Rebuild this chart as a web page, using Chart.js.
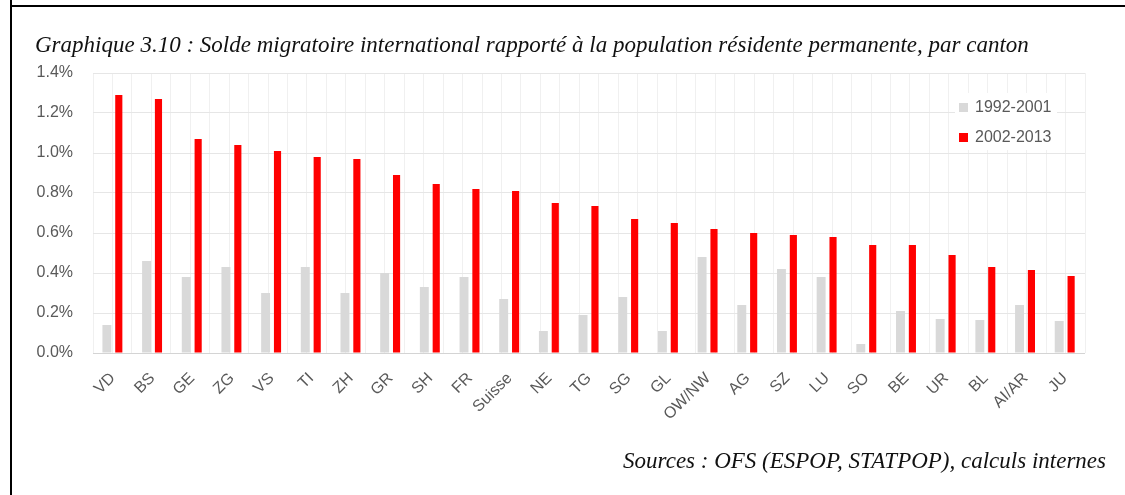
<!DOCTYPE html>
<html>
<head>
<meta charset="utf-8">
<script src="https://cdn.jsdelivr.net/npm/chart.js@4/dist/chart.umd.min.js"></script>
<style>
  body { margin: 0; background: #fff; }
  #wrap { position: relative; width: 1125px; height: 495px; }
  .frame { position: absolute; background: #000; }
  canvas { position: absolute; left: 0; top: 0; }
</style>
</head>
<body>
<div id="wrap">
  <div class="frame" style="left:10px; top:0; width:2px; height:495px;"></div>
  <div class="frame" style="left:10px; top:5px; width:1115px; height:2px;"></div>
  <canvas id="chart" width="1125" height="495"></canvas>
</div>
<script>
const cantons = ["VD", "BS", "GE", "ZG", "VS", "TI", "ZH", "GR", "SH", "FR", "Suisse", "NE", "TG",
  "SG", "GL", "OW/NW", "AG", "SZ", "LU", "SO", "BE", "UR", "BL", "AI/AR", "JU"];
const seriesLabels = ["1992-2001", "2002-2013"];
const solde1992 = [0.14, 0.46, 0.38, 0.43, 0.30, 0.43, 0.30, 0.40, 0.33, 0.38, 0.27, 0.11, 0.19,
  0.28, 0.11, 0.48, 0.24, 0.42, 0.38, 0.045, 0.21, 0.17, 0.165, 0.24, 0.16];
const solde2002 = [1.29, 1.27, 1.07, 1.04, 1.01, 0.98, 0.97, 0.89, 0.845, 0.82, 0.81, 0.75, 0.735,
  0.67, 0.65, 0.62, 0.60, 0.59, 0.58, 0.54, 0.54, 0.49, 0.43, 0.415, 0.385];
const yTicks = [0, 0.2, 0.4, 0.6, 0.8, 1.0, 1.2, 1.4];

const title = "Graphique 3.10 : Solde migratoire international rapporté à la population résidente permanente, par canton";
const source = "Sources : OFS (ESPOP, STATPOP), calculs internes";

const textColor = "#595959";

// title, source line and the legend box inside the plot
const extras = {
  id: "extras",
  afterDraw(chart) {
    const ctx = chart.ctx;
    ctx.save();
    ctx.fillStyle = "#111";
    ctx.textBaseline = "middle";
    ctx.font = "italic 23px 'Liberation Serif'";
    ctx.textAlign = "left";
    ctx.fillText(title, 35, 46);
    ctx.textAlign = "right";
    ctx.fillText(source, 1106, 462);

    ctx.fillStyle = "#fff";
    ctx.fillRect(955, 93, 102, 57);
    ctx.font = "16px 'Liberation Sans'";
    ctx.textAlign = "left";
    chart.data.datasets.forEach((ds, i) => {
      const y = 108 + i * 30;
      ctx.fillStyle = ds.backgroundColor;
      ctx.fillRect(959, y - 5, 9, 9);
      ctx.fillStyle = textColor;
      ctx.fillText(ds.label, 975, y);
    });
    ctx.restore();
  }
};

new Chart(document.getElementById("chart"), {
  type: "bar",
  data: {
    labels: cantons,
    datasets: [
      {
        label: seriesLabels[0],
        data: solde1992,
        backgroundColor: "#d9d9d9",
        barPercentage: 0.75,
        categoryPercentage: 0.6,
      },
      {
        label: seriesLabels[1],
        data: solde2002,
        backgroundColor: "#ff0000",
        barPercentage: 0.6,
        categoryPercentage: 0.6,
      },
    ],
  },
  options: {
    responsive: false,
    animation: false,
    layout: { padding: { left: 35, right: 40, top: 73, bottom: 22 } },
    plugins: {
      legend: { display: false },
      tooltip: { enabled: false },
    },
    scales: {
      x: {
        grid: { display: false },
        border: { display: false },
        ticks: {
          color: textColor,
          font: { family: "'Liberation Sans'", size: 16 },
          minRotation: 45,
          maxRotation: 45,
          padding: 8,
          autoSkip: false,
        },
        afterFit(scale) { scale.height = 120; },
      },
      xg: {
        type: "linear",
        position: "bottom",
        min: 0,
        max: cantons.length * 2,
        grid: { color: "#f0f0f0", drawTicks: false },
        border: { display: false },
        ticks: { display: false, stepSize: 1, maxTicksLimit: 100 },
        afterFit(scale) { scale.height = 0; },
      },
      y: {
        min: 0,
        max: yTicks[yTicks.length - 1],
        afterBuildTicks(scale) { scale.ticks = yTicks.map(v => ({ value: v })); },
        grid: {
          color: ctx => (ctx.tick && ctx.tick.value === 0 ? "#d4d4d4" : "#e6e6e6"),
          drawTicks: false,
        },
        border: { display: false },
        ticks: {
          color: textColor,
          font: { family: "'Liberation Sans'", size: 16 },
          padding: 20,
          callback: v => v.toFixed(1) + "%",
        },
        afterFit(scale) { scale.width = 58; },
      },
    },
  },
  plugins: [extras],
});
</script>
</body>
</html>
